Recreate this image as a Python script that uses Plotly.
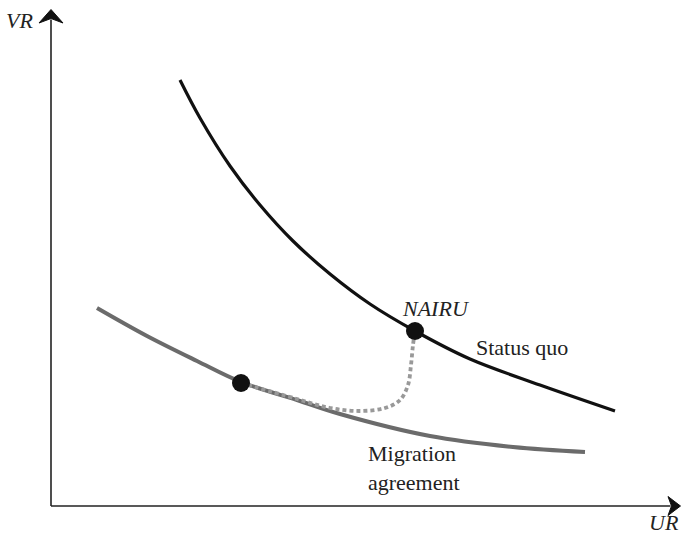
import plotly.graph_objects as go

# Status quo Beveridge curve (UR, VR)
status_ur = [2.58, 2.98, 3.58, 4.18, 4.84, 5.58, 6.38, 7.28, 8.38, 9.78, 11.28]
status_vr = [8.52, 7.76, 6.80, 6.02, 5.30, 4.64, 4.04, 3.50, 2.94, 2.42, 1.90]

# Migration agreement curve
migr_ur = [0.92, 1.92, 2.92, 3.80, 4.92, 5.78, 7.58, 9.24, 10.68]
migr_vr = [3.96, 3.40, 2.90, 2.48, 2.12, 1.84, 1.40, 1.18, 1.08]

# Transition path (dotted)
path_ur = [3.80, 4.92, 5.58, 6.18, 6.68, 6.98, 7.14, 7.20, 7.24, 7.28]
path_vr = [2.46, 2.14, 1.96, 1.90, 1.96, 2.12, 2.42, 2.82, 3.22, 3.50]

# Points
pts_ur = [3.80, 7.28]
pts_vr = [2.46, 3.50]

x_max, y_max = 12.59, 9.93
font = "Liberation Serif, Times New Roman, DejaVu Serif, serif"

fig = go.Figure()
fig.add_trace(go.Scatter(x=migr_ur, y=migr_vr, mode="lines",
                         line=dict(color="#6b6b6b", width=4, shape="spline", smoothing=1.0),
                         hoverinfo="skip"))
fig.add_trace(go.Scatter(x=path_ur, y=path_vr, mode="lines",
                         line=dict(color="#999999", width=3.8, dash="4px,3px", shape="spline", smoothing=1.0),
                         hoverinfo="skip"))
fig.add_trace(go.Scatter(x=status_ur, y=status_vr, mode="lines",
                         line=dict(color="#111111", width=3.2, shape="spline", smoothing=1.0),
                         hoverinfo="skip"))
fig.add_trace(go.Scatter(x=pts_ur, y=pts_vr, mode="markers",
                         marker=dict(color="#111111", size=18), hoverinfo="skip"))

# Axes with arrowheads
ax_col = "#222222"
fig.add_shape(type="line", x0=0, y0=0, x1=0, y1=y_max - 0.2, line=dict(color=ax_col, width=1.6))
fig.add_shape(type="line", x0=0, y0=0, x1=x_max - 0.2, y1=0, line=dict(color=ax_col, width=1.6))
fig.add_shape(type="path",
              path=f"M 0 {y_max} L 0.24 {y_max-0.27} L 0 {y_max-0.18} L -0.24 {y_max-0.27} Z",
              fillcolor="#111111", line=dict(color="#111111", width=1))
fig.add_shape(type="path",
              path=f"M {x_max} 0 L {x_max-0.25} 0.19 L {x_max-0.18} 0 L {x_max-0.25} -0.19 Z",
              fillcolor="#111111", line=dict(color="#111111", width=1))

fs = 22
tc = "#222222"
fig.add_annotation(x=-0.64, y=9.72, text="<i>VR</i>", showarrow=False,
                   font=dict(family=font, size=fs, color=tc))
fig.add_annotation(x=12.26, y=-0.32, text="<i>UR</i>", showarrow=False,
                   font=dict(family=font, size=fs, color=tc))
fig.add_annotation(x=7.70, y=3.96, text="<i>NAIRU</i>", showarrow=False,
                   font=dict(family=font, size=fs, color=tc))
fig.add_annotation(x=9.42, y=3.18, text="Status quo", showarrow=False,
                   font=dict(family=font, size=fs, color=tc))
fig.add_annotation(x=6.30, y=0.77, text="Migration<br>agreement", showarrow=False,
                   xanchor="left", align="left",
                   font=dict(family=font, size=fs, color=tc))

fig.update_layout(width=681, height=538, margin=dict(l=0, r=0, t=0, b=0),
                  paper_bgcolor="white", plot_bgcolor="white", showlegend=False,
                  xaxis=dict(range=[-1.02, 12.6], visible=False, fixedrange=True),
                  yaxis=dict(range=[-0.64, 10.12], visible=False, fixedrange=True))

fig.write_html("out.html", config={"displayModeBar": False},
               post_script="document.body.style.margin='0';document.body.style.padding='0';")
